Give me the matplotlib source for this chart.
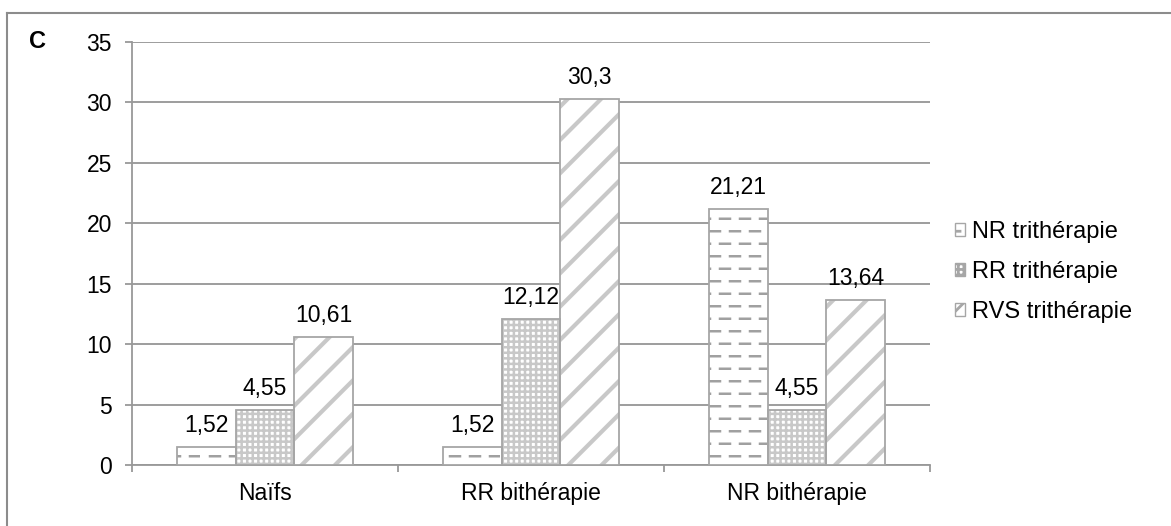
import numpy as np
import matplotlib
matplotlib.use("Agg")
import matplotlib.pyplot as plt
import matplotlib.hatch as mhatch
import matplotlib.patches as mpatches
from matplotlib.path import Path
from matplotlib.lines import Line2D

# data
categories = ["Naïfs", "RR bithérapie", "NR bithérapie"]
series_names = ["NR trithérapie", "RR trithérapie", "RVS trithérapie"]
nr_tri = [1.52, 1.52, 21.21]
rr_tri = [4.55, 12.12, 4.55]
rvs_tri = [10.61, 30.3, 13.64]
yticks = [0, 5, 10, 15, 20, 25, 30, 35]


class DashedHorizontalHatch(mhatch.HatchPatternBase):
    """'-' drawn as staggered short dashes instead of full lines."""
    def __init__(self, hatch, density):
        self.num_lines = 8 if hatch.count('-') else 0
        self.dashes = 5
        self.num_vertices = self.num_lines * self.dashes * 2

    def set_vertices_and_codes(self, vertices, codes):
        step = 1.0 / self.num_lines
        period = 1.0 / self.dashes
        k = 0
        for r in range(self.num_lines):
            y = (r + 0.5) * step
            off = 0.0 if r % 2 == 0 else period / 2
            for d in range(self.dashes):
                x0 = off + d * period
                vertices[k] = (x0, y)
                vertices[k + 1] = (x0 + period / 2, y)
                codes[k] = Path.MOVETO
                codes[k + 1] = Path.LINETO
                k += 2


class PlusHorizontalHatch(mhatch.HorizontalHatch):
    """horizontal lines only for '+' (the '-' goes to the dashed one)"""
    def __init__(self, hatch, density):
        self.num_lines = int(hatch.count('+') * density)
        self.num_vertices = self.num_lines * 2


mhatch._hatch_types = [PlusHorizontalHatch if t is mhatch.HorizontalHatch else t
                       for t in mhatch._hatch_types] + [DashedHorizontalHatch]

plt.rcParams['font.family'] = ['Liberation Sans', 'DejaVu Sans']
plt.rcParams['hatch.linewidth'] = 2.0

grey = "#999999"
outline_col = "#A6A6A6"
fs = 16.5
fig = plt.figure(figsize=(11.71, 5.26), dpi=100)
ax = fig.add_axes([0.1127, 0.116, 0.6815, 0.804])

x = np.arange(len(categories))
w = 0.22
styles = [
    dict(hatch='-', hatch_col="#A0A0A0", hlw=1.8),
    dict(hatch='+++', hatch_col="#C8C8C8", hlw=1.8),
    dict(hatch='/', hatch_col="#C8C8C8", hlw=3.0),
]
values = [nr_tri, rr_tri, rvs_tri]

handles = []
for j, (vals, st, name) in enumerate(zip(values, styles, series_names)):
    pos = x + (j - 1) * w
    bars = ax.bar(pos, vals, w, color="white", edgecolor=st["hatch_col"],
                  hatch=st["hatch"], linewidth=0, zorder=3)
    for p in bars:
        if hasattr(p, "set_hatch_linewidth"):
            p.set_hatch_linewidth(st["hlw"])
    outline = ax.bar(pos, vals, w, fill=False, edgecolor=outline_col,
                     linewidth=1.3, zorder=4)
    ax.bar_label(outline, labels=[f"{v:g}".replace(".", ",") for v in vals],
                 padding=7, fontsize=fs)
    h = mpatches.Rectangle((0, 0), 1, 1, facecolor="white", edgecolor=outline_col,
                           hatch=st["hatch"], linewidth=1.0)
    handles.append(h)

ax.set_xlim(-0.5, 2.5)
ax.set_ylim(0, 35)
ax.set_yticks(yticks)
ax.set_xticks(x)
ax.set_xticklabels(categories, fontsize=fs)
ax.set_xticks([-0.5, 0.5, 1.5, 2.5], minor=True)
ax.tick_params(axis='x', which='major', length=0, pad=12)
ax.tick_params(axis='x', which='minor', length=5, color=grey, width=1.3, direction='out')
ax.tick_params(axis='y', length=5, color=grey, width=1.3, pad=9.5, labelsize=fs)

ax.yaxis.grid(True, color="#8C8C8C", linewidth=1.2, zorder=0)
ax.set_axisbelow(True)
for s in ["top", "right"]:
    ax.spines[s].set_visible(False)
for s in ["left", "bottom"]:
    ax.spines[s].set_color(grey)
    ax.spines[s].set_linewidth(1.3)

fig.legend(handles, series_names, loc='center left', bbox_to_anchor=(0.797, 0.483),
           frameon=False, fontsize=17, handlelength=0.45, handleheight=0.45,
           handletextpad=0.3, labelspacing=0.75)

fig.text(37 / 1171, 1 - 42 / 526, "C", fontsize=17, fontweight='bold',
         ha='center', va='center')

# outer frame (left and top edges)
fig.add_artist(Line2D([7 / 1171, 7 / 1171], [0, 1 - 13 / 526], color="#8C8C8C", lw=1.5))
fig.add_artist(Line2D([7 / 1171, 1], [1 - 13 / 526, 1 - 13 / 526], color="#8C8C8C", lw=1.5))

fig.savefig("out.png", dpi=100)
